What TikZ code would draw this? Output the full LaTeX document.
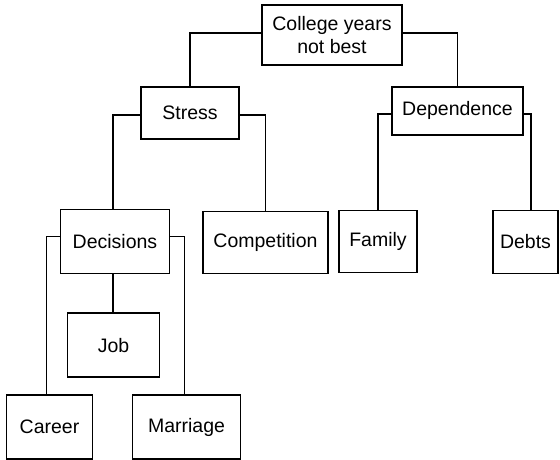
\documentclass[tikz,border=0pt]{standalone}
\usepackage{fontspec}
\setmainfont{Liberation Sans}
\usepackage{tikz}
\usetikzlibrary{positioning}

\begin{document}
\begin{tikzpicture}[
  box/.style={draw, line width=1.7pt, inner sep=0pt, align=center,
              font=\fontsize{19.5}{23}\selectfont},
  link/.style={line width=1.7pt},
]

\node[box, minimum width=140pt, minimum height=60pt] (root) at (0,0) {College years\\not best};
\node[box, minimum width=98pt, minimum height=52pt, below=20pt of root, xshift=-142pt] (stress) {Stress};
\node[box, minimum width=131pt, minimum height=48pt, below=20pt of root, xshift=125.5pt] (dep) {Dependence};
\node[box, minimum width=109pt, minimum height=64pt, below=69pt of stress, xshift=-75pt] (decisions) {Decisions};
\node[box, minimum width=125pt, minimum height=62pt, below=71pt of stress, xshift=75.5pt] (competition) {Competition};
\node[box, minimum width=78pt, minimum height=62pt, below=74pt of dep, xshift=-79.5pt] (family) {Family};
\node[box, minimum width=65pt, minimum height=63pt, below=74pt of dep, xshift=68pt] (debts) {Debts};
\node[box, minimum width=92pt, minimum height=64pt, below=38pt of decisions, xshift=-1.5pt] (job) {Job};
\node[box, minimum width=86pt, minimum height=64pt, below=120pt of decisions, xshift=-65.5pt] (career) {Career};
\node[box, minimum width=108pt, minimum height=64pt, below=120pt of decisions, xshift=71.5pt] (marriage) {Marriage};

\draw[link] ([yshift=2pt]root.west) -| (stress.north);
\draw[link] ([yshift=2pt]root.east) -| (dep.north);
\draw[link] ([yshift=-2pt]stress.west) -| ([xshift=-2pt]decisions.north);
\draw[link] ([yshift=-2pt]stress.east) -| (competition.north);
\draw[link] ([yshift=-3pt]dep.west) -| (family.north);
\draw[link] ([yshift=-3pt]dep.east) -| ([xshift=5.5pt]debts.north);
\draw[link] ([xshift=-2pt]decisions.south) -- ([xshift=-0.5pt]job.north);
\draw[link] ([yshift=5pt]decisions.west) -| ([xshift=-3pt]career.north);
\draw[link] ([yshift=5pt]decisions.east) -| ([xshift=-2pt]marriage.north);

\useasboundingbox (-332pt,35pt) rectangle (228pt,-421pt);
\end{tikzpicture}
\end{document}
